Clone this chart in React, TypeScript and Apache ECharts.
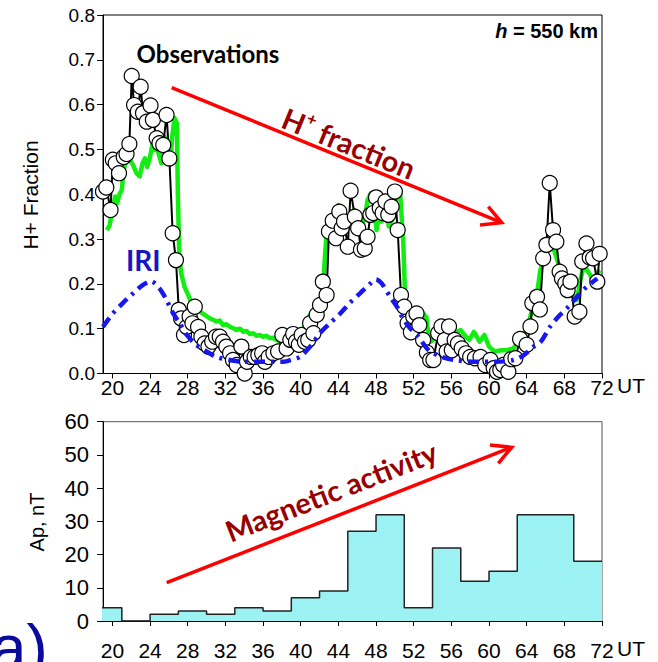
import React, { useEffect, useRef } from "react";
import * as echarts from "echarts";

// ---------- data ----------
const xTickHours = [20, 24, 28, 32, 36, 40, 44, 48, 52, 56, 60, 64, 68, 72];

const obsUT = [
  19.0, 19.35, 19.8, 20.05, 20.35, 20.7, 21.2, 21.5, 21.8, 22.05, 22.3, 22.7, 23.0, 23.25, 23.65,
  24.05, 24.3, 24.7, 25.0, 25.4, 25.75, 26.05, 26.4, 26.75, 27.05, 27.3, 27.6, 27.9, 28.2, 28.5,
  28.75, 29.1, 29.45, 29.8, 30.2, 30.6, 31.0, 31.4, 31.75, 32.1, 32.5, 32.8, 33.2, 33.7, 34.05,
  34.3, 34.7, 35.1, 35.5, 35.9, 36.2, 36.6, 37.1, 37.6, 38.05, 38.5, 38.9, 39.2, 39.5, 39.8,
  40.1, 40.45, 40.8, 41.0, 41.35, 41.7, 42.05, 42.35, 42.75, 43.0, 43.4, 43.75, 44.1, 44.35, 44.6,
  45.0, 45.3, 45.75, 46.1, 46.4, 46.8, 47.1, 47.4, 47.7, 48.0, 48.4, 48.7, 49.0, 49.3, 49.65,
  50.0, 50.3, 50.65, 51.0, 51.35, 51.7, 51.95, 52.3, 52.6, 53.0, 53.4, 53.75, 54.1, 54.6, 54.95,
  55.3, 55.5, 55.75, 56.05, 56.35, 56.7, 57.1, 57.55, 58.0, 58.5, 59.1, 59.6, 60.15, 60.5, 60.85,
  61.2, 61.5, 62.05, 62.35, 62.8, 63.3, 64.0, 64.4, 64.6, 65.1, 65.4, 65.75, 66.1, 66.45, 66.8,
  67.15, 67.5, 67.75, 68.1, 68.35, 68.65, 69.1, 69.6, 69.9, 70.35, 70.7, 71.05, 71.5, 71.75,
];
const obsFrac = [
  0.406, 0.415, 0.365, 0.477, 0.469, 0.447, 0.483, 0.49, 0.512, 0.664, 0.599, 0.584, 0.64, 0.581, 0.562,
  0.598, 0.566, 0.525, 0.514, 0.51, 0.577, 0.48, 0.313, 0.253, 0.142, 0.123, 0.086, 0.104, 0.127, 0.112,
  0.149, 0.104, 0.082, 0.067, 0.06, 0.071, 0.082, 0.082, 0.071, 0.06, 0.045, 0.03, 0.019, 0.06, 0.0,
  0.026, 0.037, 0.037, 0.041, 0.045, 0.026, 0.037, 0.045, 0.049, 0.086, 0.056, 0.075, 0.088, 0.071, 0.064,
  0.086, 0.071, 0.075, 0.112, 0.09, 0.131, 0.153, 0.205, 0.175, 0.317, 0.341, 0.302, 0.361, 0.324, 0.339,
  0.283, 0.408, 0.35, 0.324, 0.276, 0.279, 0.305, 0.354, 0.358, 0.393, 0.369, 0.358, 0.384, 0.354, 0.372,
  0.406, 0.32, 0.175, 0.149, 0.112, 0.092, 0.127, 0.134, 0.108, 0.075, 0.047, 0.03, 0.03, 0.09, 0.105,
  0.075, 0.049, 0.105, 0.052, 0.075, 0.067, 0.056, 0.045, 0.037, 0.034, 0.037, 0.019, 0.03, 0.012, 0.004,
  0.008, 0.019, 0.004, 0.032, 0.034, 0.077, 0.064, 0.105, 0.157, 0.171, 0.143, 0.257, 0.287, 0.425, 0.32,
  0.294, 0.227, 0.212, 0.201, 0.186, 0.205, 0.127, 0.138, 0.25, 0.29, 0.259, 0.257, 0.205, 0.267,
];

const modelUT = [
  19.4, 19.7, 20.05, 20.3, 20.5, 20.75, 21.0, 21.2, 21.5, 21.85, 22.2, 22.55, 22.9, 23.2, 23.45,
  23.7, 24.0, 24.3, 24.5, 24.75, 25.0, 25.2, 25.55, 25.9, 26.15, 26.35, 26.6, 26.85, 26.95, 27.1,
  27.3, 27.65, 28.05, 28.4, 28.6, 29.0, 29.3, 29.8, 30.35, 30.7, 31.05, 31.4, 31.75, 32.1, 32.5,
  32.85, 33.2, 33.55, 33.9, 34.25, 34.6, 34.95, 35.3, 35.65, 36.0, 36.35, 36.7, 37.05, 37.4, 37.75,
  38.1, 38.5, 39.0, 39.5, 40.0, 40.4, 40.8, 41.3, 41.7, 42.05, 42.35, 42.55, 42.75, 43.1, 43.6,
  44.0, 44.3, 44.6, 45.0, 45.35, 45.7, 46.1, 46.4, 46.8, 47.1, 47.45, 47.8, 48.05, 48.3, 48.6,
  49.0, 49.35, 49.7, 50.0, 50.25, 50.55, 50.9, 51.05, 51.25, 51.8, 52.3, 52.85, 53.35, 53.5, 53.8,
  54.4, 54.9, 55.6, 56.3, 57.0, 57.55, 57.9, 58.4, 59.0, 59.5, 60.0, 60.6, 61.3, 61.9, 62.6,
  63.1, 63.65, 64.2, 64.75, 65.1, 65.45, 65.8, 66.2, 66.5, 66.9, 67.25, 67.6, 67.95, 68.3, 68.65,
  69.0, 69.35, 69.7, 70.05, 70.4, 70.75, 71.1, 71.5, 71.8,
];
const modelFrac = [
  0.32, 0.33, 0.372, 0.395, 0.38, 0.4, 0.41, 0.455, 0.477, 0.477, 0.465, 0.447, 0.44, 0.469, 0.48,
  0.461, 0.484, 0.517, 0.499, 0.503, 0.484, 0.469, 0.528, 0.506, 0.469, 0.528, 0.57, 0.558, 0.4, 0.268,
  0.224, 0.194, 0.175, 0.157, 0.153, 0.145, 0.138, 0.131, 0.123, 0.12, 0.116, 0.118, 0.108, 0.11, 0.104,
  0.101, 0.097, 0.1, 0.093, 0.095, 0.088, 0.09, 0.084, 0.086, 0.082, 0.084, 0.079, 0.08, 0.075, 0.072,
  0.067, 0.068, 0.065, 0.075, 0.09, 0.105, 0.125, 0.14, 0.15, 0.164, 0.186, 0.253, 0.313, 0.328, 0.36,
  0.376, 0.365, 0.34, 0.346, 0.358, 0.365, 0.355, 0.331, 0.346, 0.387, 0.402, 0.376, 0.32, 0.35, 0.339,
  0.376, 0.328, 0.343, 0.372, 0.402, 0.406, 0.29, 0.194, 0.149, 0.134, 0.142, 0.138, 0.125, 0.097, 0.071,
  0.082, 0.09, 0.093, 0.09, 0.097, 0.082, 0.075, 0.093, 0.071, 0.086, 0.06, 0.049, 0.052, 0.052, 0.056,
  0.071, 0.082, 0.112, 0.157, 0.179, 0.231, 0.253, 0.29, 0.302, 0.276, 0.253, 0.231, 0.215, 0.212, 0.21,
  0.171, 0.164, 0.209, 0.238, 0.231, 0.22, 0.201, 0.224, 0.23,
];

const iriUT = [
  19.0, 20.05, 21.1, 22.2, 23.25, 24.1, 25.0, 25.75, 26.45, 27.15, 27.9, 28.9, 30.0, 31.05, 32.5,
  34.0, 36.0, 38.1, 38.9, 39.9, 41.0, 42.05, 43.1, 44.2, 45.2, 46.3, 47.4, 48.0, 48.6, 49.5,
  50.2, 50.75, 51.45, 52.5, 53.6, 55.0, 56.4, 58.5, 60.7, 62.6, 63.7, 64.75, 65.5, 66.5, 67.55,
  68.3, 69.35, 70.4, 71.5,
];
const iriFrac = [
  0.104, 0.134, 0.157, 0.179, 0.198, 0.206, 0.19, 0.164, 0.134, 0.112, 0.086, 0.064, 0.049, 0.037, 0.03,
  0.026, 0.026, 0.026, 0.03, 0.037, 0.06, 0.09, 0.112, 0.134, 0.157, 0.179, 0.201, 0.21, 0.201, 0.171,
  0.15, 0.127, 0.105, 0.082, 0.052, 0.037, 0.03, 0.026, 0.026, 0.03, 0.041, 0.06, 0.071, 0.105, 0.131,
  0.146, 0.171, 0.194, 0.212,
];

const apStartUT = [18, 21, 24, 27, 30, 33, 36, 39, 42, 45, 48, 51, 54, 57, 60, 63, 66, 69];
const apValues = [4, 0, 2, 3, 2, 4, 3, 7, 9, 27, 32, 4, 22, 12, 15, 32, 32, 18];
const apEndUT = 72;

// ---------- chart ----------
const FONT = "'Liberation Sans', Arial, sans-serif";
const CAL = "Lato, 'Open Sans', sans-serif";

function buildOption(): any {
  const pairs = (xs: number[], ys: number[]) => xs.map((x, i) => [x, ys[i]]);
  const apData = apStartUT.map((s, i) => [s, apValues[i]]);
  apData.push([apEndUT, apValues[apValues.length - 1]]);

  const xAxisBase = (gridIndex: number, margin: number) => ({
    gridIndex,
    type: "value",
    min: 19,
    max: 72,
    axisLine: { show: true, lineStyle: { color: "#000", width: 1 } },
    axisTick: { show: true, customValues: xTickHours, length: 5, inside: false, lineStyle: { color: "#000" } },
    axisLabel: {
      customValues: xTickHours,
      color: "#000",
      fontSize: 21,
      fontFamily: FONT,
      margin,
    },
    splitLine: { show: false },
  });

  const txt = (text: string, x: number, y: number, font: string, fill: string, align = "left", valign = "middle", extra: any = {}) => ({
    type: "text",
    x,
    y,
    ...extra,
    style: { text, font, fill, align, textAlign: align, verticalAlign: valign, textVerticalAlign: valign },
  });

  return {
    animation: false,
    backgroundColor: "#fff",
    grid: [
      { left: 103, top: 15, width: 499, height: 358.5, show: true, borderColor: "#000", borderWidth: 1, backgroundColor: "transparent" },
      { left: 103, top: 421.7, width: 499, height: 199.3, show: true, borderColor: "#555", borderWidth: 1, backgroundColor: "transparent" },
    ],
    xAxis: [xAxisBase(0, 3), xAxisBase(1, 19)],
    yAxis: [
      {
        gridIndex: 0,
        type: "value",
        min: 0,
        max: 0.8,
        interval: 0.1,
        axisLine: { show: true, lineStyle: { color: "#000" } },
        axisTick: { show: true, length: 6, lineStyle: { color: "#000" } },
        axisLabel: { color: "#000", fontSize: 19, fontFamily: FONT, margin: 8, formatter: (v: number) => v.toFixed(1) },
        splitLine: { show: false },
      },
      {
        gridIndex: 1,
        type: "value",
        min: 0,
        max: 60,
        interval: 10,
        axisLine: { show: true, lineStyle: { color: "#000" } },
        axisTick: { show: true, length: 6, lineStyle: { color: "#000" } },
        axisLabel: { color: "#000", fontSize: 22, fontFamily: FONT, margin: 14 },
        splitLine: { show: false },
      },
    ],
    series: [
      {
        name: "model",
        type: "line",
        xAxisIndex: 0,
        yAxisIndex: 0,
        data: pairs(modelUT, modelFrac),
        symbol: "none",
        lineStyle: { color: "#12ee12", width: 4.5, join: "round" },
        z: 2,
      },
      {
        name: "Observations",
        type: "line",
        xAxisIndex: 0,
        yAxisIndex: 0,
        data: pairs(obsUT, obsFrac),
        symbol: "circle",
        symbolSize: 15,
        itemStyle: { color: "#fff", borderColor: "#000", borderWidth: 1.2 },
        lineStyle: { color: "#000", width: 2 },
        z: 3,
      },
      {
        name: "IRI",
        type: "line",
        xAxisIndex: 0,
        yAxisIndex: 0,
        data: pairs(iriUT, iriFrac),
        smooth: 0.3,
        symbol: "none",
        lineStyle: { color: "#1717ee", width: 4.5, type: [11, 6, 3, 6] },
        z: 4,
      },
      {
        name: "Ap",
        type: "line",
        xAxisIndex: 1,
        yAxisIndex: 1,
        step: "end",
        data: apData,
        symbol: "none",
        lineStyle: { color: "#222", width: 1.5 },
        areaStyle: { color: "#9cf2f2", opacity: 1 },
        z: 2,
      },
    ],
    graphic: [
      txt("Observations", 208, 53, `bold 24px ${CAL}`, "#000", "center"),
      {
        type: "text",
        x: 598,
        y: 31,
        style: {
          text: "{i|h}{b| = 550 km}",
          align: "right",
          textAlign: "right",
          verticalAlign: "middle",
          textVerticalAlign: "middle",
          rich: {
            i: { font: `italic bold 20px ${FONT}`, fill: "#000" },
            b: { font: `bold 20px ${FONT}`, fill: "#000" },
          },
        },
      },
      txt("IRI", 126, 260, `bold 28px ${CAL}`, "#1515c8", "left"),
      // H+ fraction arrow
      { type: "line", shape: { x1: 171.7, y1: 87.7, x2: 501.7, y2: 222.7 }, style: { stroke: "#ff0000", lineWidth: 3.5 } },
      { type: "polyline", shape: { points: [[488.3, 206.7], [501.7, 222.7], [480, 225]] }, style: { stroke: "#ff0000", lineWidth: 3.5, fill: null } },
      {
        type: "text",
        x: 349,
        y: 143,
        rotation: -0.388,
        style: {
          text: "{h|H}{s|+}{f| fraction}",
          align: "center",
          textAlign: "center",
          verticalAlign: "middle",
          textVerticalAlign: "middle",
          rich: {
            h: { font: `bold 29px ${CAL}`, fill: "#990000", lineHeight: 34 },
            s: { font: `bold 17px ${CAL}`, fill: "#990000", verticalAlign: "top", lineHeight: 34 },
            f: { font: `bold 29px ${CAL}`, fill: "#990000", lineHeight: 34 },
          },
        },
      },
      // Magnetic activity arrow
      { type: "line", shape: { x1: 166.7, y1: 582.7, x2: 511.7, y2: 447.3 }, style: { stroke: "#ff0000", lineWidth: 3.5 } },
      { type: "polyline", shape: { points: [[490, 445], [511.7, 447.3], [498.3, 463.3]] }, style: { stroke: "#ff0000", lineWidth: 3.5, fill: null } },
      txt("Magnetic activity", 331, 491, `bold 29px ${CAL}`, "#990000", "center", "middle", { rotation: 0.374 }),
      // UT unit labels
      txt("UT", 617, 385, `21px ${FONT}`, "#000", "left"),
      txt("UT", 617, 648, `21px ${FONT}`, "#000", "left"),
      // axis titles
      txt("H+ Fraction", 30, 195, `21px ${FONT}`, "#000", "center", "middle", { rotation: Math.PI / 2 }),
      txt("Ap, nT", 37, 522, `20px ${FONT}`, "#000", "center", "middle", { rotation: Math.PI / 2 }),
      // panel letter (cut by the page edge, as in the original figure)
      txt("a)", -9, 648, `64px ${FONT}`, "#0a0a9e", "left"),
    ],
  };
}

export default function App() {
  const ref = useRef<HTMLDivElement>(null);
  useEffect(() => {
    if (!ref.current) return;
    const chart = echarts.init(ref.current, null, { renderer: "svg" });
    chart.setOption(buildOption());
    return () => chart.dispose();
  }, []);
  return (
    <div
      ref={ref}
      style={{ position: "fixed", left: 0, top: 0, width: 658, height: 662, background: "#fff" }}
    />
  );
}
